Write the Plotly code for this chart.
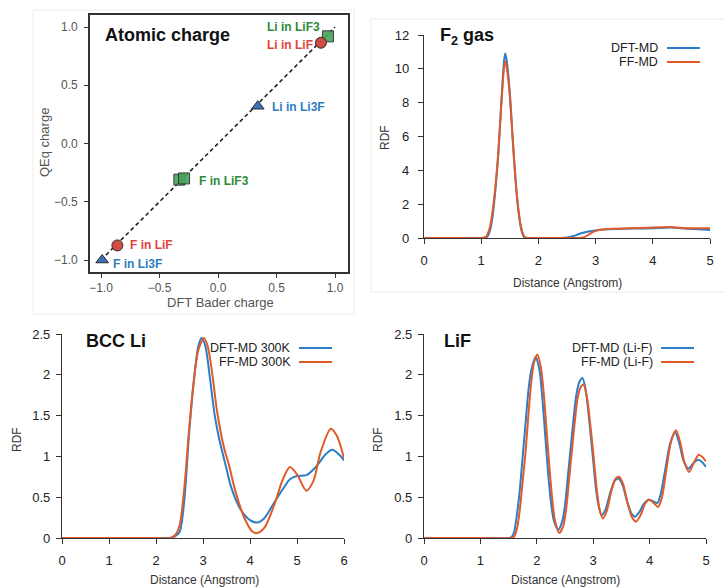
import plotly.graph_objects as go

W, H = 724, 587


def fx(px):
    return px / W


def fy(py):
    return 1 - py / H


FONT = "Liberation Sans, Arial, Helvetica, sans-serif"
BLUE = "#2b7ec7"
ORANGE = "#e15a2a"
AXC = "#333333"

# ---------------- data: atomic charge ----------------
lif3_dft = [0.94, -0.33, -0.29]
lif3_qeq = [0.92, -0.31, -0.30]
lif_dft = [0.88, -0.86]
lif_qeq = [0.865, -0.875]
li3f_dft = [0.34, -0.99]
li3f_qeq = [0.32, -1.00]
diag = [-1.0, 1.0]

charge_labels = ["Li in LiF3", "Li in LiF", "Li in Li3F", "F in LiF3", "F in LiF", "F in Li3F"]
charge_label_x = [0.40, 0.40, 0.445, -0.18, -0.77, -0.915]
charge_label_y = [1.00, 0.845, 0.313, -0.322, -0.871, -1.034]
charge_label_colors = ["#2f8a3c", "#e0443c", "#2e7ebf", "#2f8a3c", "#e0443c", "#2e7ebf"]

# ---------------- data: F2 gas ----------------
f2_dft_x = [0, 0.5, 1.0, 1.1, 1.15, 1.2, 1.25, 1.3, 1.35, 1.4, 1.42, 1.45, 1.5, 1.55, 1.6, 1.65, 1.7, 1.75, 1.8,
            2.0, 2.4, 2.5, 2.6, 2.7, 2.8, 2.9, 3.0, 3.2, 3.5, 3.8, 4.0, 4.3, 4.6, 4.8, 5.0]
f2_dft_y = [0, 0, 0, 0.05, 0.4, 1.3, 2.9, 5.0, 7.9, 10.5, 10.9, 10.4, 8.6, 5.9, 3.4, 1.6, 0.5, 0.05, 0,
            0, 0, 0.03, 0.1, 0.22, 0.32, 0.4, 0.45, 0.52, 0.55, 0.56, 0.57, 0.62, 0.55, 0.52, 0.48]
f2_ff_x = [0, 0.5, 1.0, 1.08, 1.15, 1.2, 1.25, 1.3, 1.35, 1.4, 1.42, 1.45, 1.5, 1.55, 1.6, 1.65, 1.7, 1.75, 1.8,
           2.0, 2.5, 2.7, 2.8, 2.9, 3.0, 3.1, 3.3, 3.6, 3.9, 4.3, 4.6, 4.8, 5.0]
f2_ff_y = [0, 0, 0, 0.05, 0.6, 1.6, 3.1, 5.1, 7.8, 10.1, 10.45, 10.0, 8.4, 5.9, 3.5, 1.7, 0.6, 0.1, 0,
           0, 0, 0, 0.05, 0.25, 0.42, 0.5, 0.55, 0.57, 0.6, 0.65, 0.58, 0.57, 0.58]

# ---------------- data: BCC Li ----------------
bcc_dft_x = [0, 1.0, 2.0, 2.3, 2.4, 2.5, 2.6, 2.7, 2.8, 2.9, 2.97, 3.05, 3.15, 3.25, 3.35, 3.5, 3.6, 3.8, 4.0,
             4.15, 4.3, 4.5, 4.7, 4.85, 5.0, 5.2, 5.4, 5.6, 5.75, 5.9, 6.0]
bcc_dft_y = [0, 0, 0, 0, 0.02, 0.07, 0.45, 1.25, 1.9, 2.35, 2.45, 2.35, 1.95, 1.5, 1.2, 0.85, 0.62, 0.35, 0.22,
             0.19, 0.24, 0.42, 0.6, 0.72, 0.76, 0.77, 0.87, 1.02, 1.08, 1.02, 0.95]
bcc_ff_x = [0, 1.0, 2.0, 2.3, 2.4, 2.5, 2.6, 2.7, 2.8, 2.9, 3.02, 3.1, 3.2, 3.3, 3.45, 3.55, 3.7, 3.9, 4.05,
            4.15, 4.3, 4.5, 4.7, 4.85, 5.0, 5.2, 5.35, 5.5, 5.72, 5.85, 6.0]
bcc_ff_y = [0, 0, 0, 0, 0.03, 0.15, 0.6, 1.3, 1.9, 2.3, 2.45, 2.35, 2.0, 1.55, 1.1, 0.9, 0.55, 0.22, 0.08,
            0.06, 0.12, 0.38, 0.72, 0.87, 0.78, 0.58, 0.7, 1.05, 1.34, 1.25, 0.98]

# ---------------- data: LiF ----------------
lif_dft_rx = [0, 1.0, 1.5, 1.55, 1.6, 1.65, 1.7, 1.75, 1.8, 1.85, 1.9, 1.98, 2.05, 2.1, 2.15, 2.2, 2.25, 2.3,
              2.38, 2.45, 2.5, 2.55, 2.6, 2.65, 2.7, 2.76, 2.81, 2.87, 2.95, 3.0, 3.05, 3.1, 3.15, 3.22, 3.3,
              3.38, 3.45, 3.52, 3.6, 3.68, 3.74, 3.82, 3.9, 3.98, 4.06, 4.14, 4.2, 4.28, 4.36, 4.45, 4.53, 4.6,
              4.69, 4.78, 4.86, 4.93, 5.0]
lif_dft_ry = [0, 0, 0, 0.01, 0.08, 0.3, 0.6, 1.0, 1.4, 1.8, 2.05, 2.22, 2.05, 1.7, 1.25, 0.8, 0.45, 0.22,
              0.1, 0.2, 0.4, 0.75, 1.1, 1.45, 1.75, 1.92, 1.96, 1.8, 1.3, 0.95, 0.6, 0.38, 0.28, 0.35, 0.55,
              0.7, 0.73, 0.65, 0.45, 0.3, 0.26, 0.32, 0.42, 0.47, 0.45, 0.43, 0.55, 0.85, 1.15, 1.3, 1.15, 0.95,
              0.85, 0.92, 0.96, 0.93, 0.87]
lif_ff_rx = [0, 1.0, 1.55, 1.6, 1.65, 1.7, 1.75, 1.8, 1.85, 1.9, 1.95, 2.01, 2.07, 2.12, 2.17, 2.22, 2.27, 2.32,
             2.4, 2.47, 2.52, 2.57, 2.62, 2.67, 2.72, 2.78, 2.83, 2.89, 2.97, 3.02, 3.07, 3.12, 3.17, 3.24,
             3.32, 3.4, 3.46, 3.53, 3.61, 3.69, 3.76, 3.84, 3.92, 3.99, 4.07, 4.15, 4.22, 4.3, 4.38, 4.47,
             4.55, 4.62, 4.7, 4.79, 4.87, 4.94, 5.0]
lif_ff_ry = [0, 0, 0, 0.02, 0.12, 0.35, 0.7, 1.05, 1.5, 1.9, 2.15, 2.25, 2.1, 1.8, 1.35, 0.9, 0.5, 0.22,
             0.06, 0.15, 0.35, 0.7, 1.05, 1.4, 1.7, 1.85, 1.88, 1.72, 1.25, 0.9, 0.55, 0.33, 0.24, 0.33,
             0.57, 0.73, 0.75, 0.66, 0.43, 0.25, 0.2, 0.28, 0.42, 0.47, 0.43, 0.38, 0.5, 0.85, 1.18, 1.32,
             1.15, 0.92, 0.81, 0.93, 1.02, 0.99, 0.94]

f2_ticks_x = [0, 1, 2, 3, 4, 5]
f2_ticks_y = [0, 2, 4, 6, 8, 10, 12]
bcc_ticks_x = [0, 1, 2, 3, 4, 5, 6]
lif_ticks_x = [0, 1, 2, 3, 4, 5]
rdf_ticks_y = [0, 0.5, 1, 1.5, 2, 2.5]
rdf_ticktext_y = ["0", "0.5", "1", "1.5", "2", "2.5"]
charge_ticks = [-1.0, -0.5, 0.0, 0.5, 1.0]
charge_ticktext = ["\u22121.0", "\u22120.5", "0.0", "0.5", "1.0"]

fig = go.Figure()

# ---- panel 1: atomic charge ----
fig.add_trace(go.Scatter(x=diag, y=diag, mode="lines", xaxis="x", yaxis="y",
                         line=dict(color="#222222", width=1.6, dash="4px,3px"), showlegend=False))
mk_line = dict(color="#2a2a2a", width=1)
fig.add_trace(go.Scatter(x=lif3_dft, y=lif3_qeq, mode="markers", xaxis="x", yaxis="y", name="LiF3",
                         marker=dict(symbol="square", size=11, color="#46a35a", opacity=0.9, line=mk_line),
                         showlegend=False))
fig.add_trace(go.Scatter(x=lif_dft, y=lif_qeq, mode="markers", xaxis="x", yaxis="y", name="LiF",
                         marker=dict(symbol="circle", size=11, color="#d04a46", line=mk_line),
                         showlegend=False))
fig.add_trace(go.Scatter(x=li3f_dft, y=li3f_qeq, mode="markers", xaxis="x", yaxis="y", name="Li3F",
                         marker=dict(symbol="triangle-up", size=11, color="#3b6fb6", line=mk_line),
                         showlegend=False))

# ---- panel 2: F2 gas ----
fig.add_trace(go.Scatter(x=f2_dft_x, y=f2_dft_y, mode="lines", xaxis="x2", yaxis="y2", name="DFT-MD",
                         line=dict(color=BLUE, width=2, shape="spline", smoothing=0.7), showlegend=False))
fig.add_trace(go.Scatter(x=f2_ff_x, y=f2_ff_y, mode="lines", xaxis="x2", yaxis="y2", name="FF-MD",
                         line=dict(color=ORANGE, width=2, shape="spline", smoothing=0.7), showlegend=False))
# ---- panel 3: BCC Li ----
fig.add_trace(go.Scatter(x=bcc_dft_x, y=bcc_dft_y, mode="lines", xaxis="x3", yaxis="y3", name="DFT-MD 300K",
                         line=dict(color=BLUE, width=2, shape="spline", smoothing=0.8), showlegend=False))
fig.add_trace(go.Scatter(x=bcc_ff_x, y=bcc_ff_y, mode="lines", xaxis="x3", yaxis="y3", name="FF-MD 300K",
                         line=dict(color=ORANGE, width=2, shape="spline", smoothing=0.8), showlegend=False))
# ---- panel 4: LiF ----
fig.add_trace(go.Scatter(x=lif_dft_rx, y=lif_dft_ry, mode="lines", xaxis="x4", yaxis="y4", name="DFT-MD (Li-F)",
                         line=dict(color=BLUE, width=2, shape="spline", smoothing=0.7), showlegend=False))
fig.add_trace(go.Scatter(x=lif_ff_rx, y=lif_ff_ry, mode="lines", xaxis="x4", yaxis="y4", name="FF-MD (Li-F)",
                         line=dict(color=ORANGE, width=2, shape="spline", smoothing=0.7), showlegend=False))


def rdf_axis(domain, rng, tickvals, ticktext=None, anchor=None, standoff=4):
    d = dict(domain=domain, range=rng, tickvals=tickvals, showgrid=False, zeroline=False,
             showline=True, linecolor=AXC, linewidth=1.3, ticks="outside", ticklen=5,
             tickcolor=AXC, tickwidth=1.3, tickfont=dict(family=FONT, size=13, color="#222222"),
             ticklabelstandoff=standoff, fixedrange=True, automargin=False)
    if ticktext is not None:
        d["ticktext"] = ticktext
    if anchor:
        d["anchor"] = anchor
    return d


layout = dict(
    width=W, height=H, margin=dict(l=0, r=0, t=0, b=0, autoexpand=False),
    paper_bgcolor="white", plot_bgcolor="white", font=dict(family=FONT),
    xaxis=dict(domain=[fx(90), fx(348)], range=[-1.094, 1.111], tickvals=charge_ticks,
               ticktext=charge_ticktext, anchor="y", showgrid=False, zeroline=False, showline=True,
               mirror=True, linecolor=AXC, linewidth=1.6, ticks="outside", ticklen=4, tickcolor=AXC,
               tickfont=dict(family=FONT, size=12, color="#555555"), ticklabelstandoff=0, automargin=False,
               fixedrange=True),
    yaxis=dict(domain=[fy(272), fy(15)], range=[-1.103, 1.103], tickvals=charge_ticks,
               ticktext=charge_ticktext, anchor="x", showgrid=False, zeroline=False, showline=True,
               mirror=True, linecolor=AXC, linewidth=1.6, ticks="outside", ticklen=4, tickcolor=AXC,
               tickfont=dict(family=FONT, size=12, color="#555555"), ticklabelstandoff=4, automargin=False,
               fixedrange=True),
    xaxis2=rdf_axis([fx(424), fx(710)], [0, 5], f2_ticks_x, anchor="y2", standoff=5),
    yaxis2=rdf_axis([fy(238), fy(35)], [0, 12], f2_ticks_y, anchor="x2", standoff=6),
    xaxis3=rdf_axis([fx(62), fx(344)], [0, 6], bcc_ticks_x, anchor="y3", standoff=5),
    yaxis3=rdf_axis([fy(538), fy(334)], [0, 2.5], rdf_ticks_y, rdf_ticktext_y, anchor="x3", standoff=3),
    xaxis4=rdf_axis([fx(424), fx(706)], [0, 5], lif_ticks_x, anchor="y4", standoff=5),
    yaxis4=rdf_axis([fy(538), fy(334)], [0, 2.5], rdf_ticks_y, rdf_ticktext_y, anchor="x4", standoff=3),
)
fig.update_layout(**layout)

ann = []


def paper_text(text, px, py, size, color="#222222", bold=False, xanchor="left", angle=0):
    t = f"<b>{text}</b>" if bold else text
    ann.append(dict(text=t, x=fx(px), y=fy(py), xref="paper", yref="paper", xanchor=xanchor,
                    yanchor="middle", showarrow=False, textangle=angle,
                    font=dict(family=FONT, size=size, color=color)))


# panel titles
paper_text("Atomic charge", 103, 35, 18, "#111111", bold=True)
paper_text("F<sub>2</sub> gas", 438, 36, 18, "#111111", bold=True)
paper_text("BCC Li", 84, 341, 18, "#111111", bold=True)
paper_text("LiF", 442, 341, 18, "#111111", bold=True)

# axis titles
paper_text("QEq charge", 45, 143, 13, "#555555", xanchor="center", angle=-90)
paper_text("DFT Bader charge", 220, 302, 13, "#555555", xanchor="center")
paper_text("RDF", 385, 137, 12, "#333333", xanchor="center", angle=-90)
paper_text("Distance (Angstrom)", 567, 283, 12, "#333333", xanchor="center")
paper_text("RDF", 17, 440, 12, "#333333", xanchor="center", angle=-90)
paper_text("Distance (Angstrom)", 204, 580, 12, "#333333", xanchor="center")
paper_text("RDF", 378, 440, 12, "#333333", xanchor="center", angle=-90)
paper_text("Distance (Angstrom)", 565, 580, 12, "#333333", xanchor="center")

# legends (text right of which a line sample is drawn, as in the reference)
legend_items = [
    ("DFT-MD", 660, 48, 667, 700, BLUE),
    ("FF-MD", 660, 62, 667, 700, ORANGE),
    ("DFT-MD 300K", 293, 348, 299, 332, BLUE),
    ("FF-MD 300K", 293, 362, 299, 332, ORANGE),
    ("DFT-MD (Li-F)", 655, 348, 661, 694, BLUE),
    ("FF-MD (Li-F)", 655, 362, 661, 694, ORANGE),
]
shapes = []
for name, tx, ty, lx0, lx1, col in legend_items:
    paper_text(name, tx, ty, 12.5, "#222222", xanchor="right")
    shapes.append(dict(type="line", xref="paper", yref="paper", x0=fx(lx0), x1=fx(lx1), y0=fy(ty), y1=fy(ty),
                       line=dict(color=col, width=2)))

# point labels in the charge panel (data coordinates)
for lab, lx, ly, lc in zip(charge_labels, charge_label_x, charge_label_y, charge_label_colors):
    ann.append(dict(text=f"<b>{lab}</b>", x=lx, y=ly, xref="x", yref="y", xanchor="left", yanchor="middle",
                    showarrow=False, font=dict(family=FONT, size=12, color=lc)))

# faint frames around the two upper panels
shapes.append(dict(type="rect", xref="paper", yref="paper", x0=fx(33), x1=fx(354), y0=fy(314), y1=fy(10),
                   line=dict(color="#ececec", width=1), layer="below"))
shapes.append(dict(type="rect", xref="paper", yref="paper", x0=fx(371), x1=fx(726), y0=fy(292), y1=fy(19),
                   line=dict(color="#ececec", width=1), layer="below"))

fig.update_layout(annotations=ann, shapes=shapes)
fig.write_html("out.html", config={"displayModeBar": False},
               post_script="document.body.style.margin='0px';")
